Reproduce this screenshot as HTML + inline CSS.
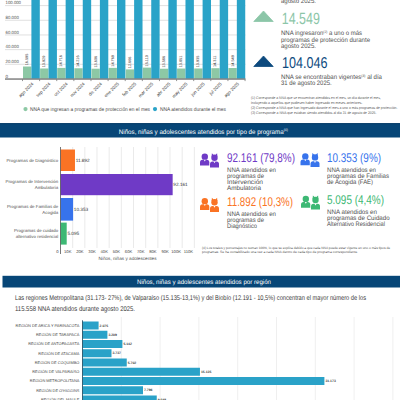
<!DOCTYPE html>
<html><head><meta charset="utf-8"><style>
html,body{margin:0;padding:0;background:#fff;width:400px;height:400px;overflow:hidden}
svg{display:block;font-family:"Liberation Sans", sans-serif;text-rendering:geometricPrecision}
</style></head><body>
<svg width="400" height="400" viewBox="0 0 400 400">
<line x1="5.00" y1="64.32" x2="245.50" y2="64.32" stroke="#d8d8d8" stroke-width="0.8"/>
<line x1="5.00" y1="49.64" x2="245.50" y2="49.64" stroke="#d8d8d8" stroke-width="0.8"/>
<line x1="5.00" y1="34.96" x2="245.50" y2="34.96" stroke="#d8d8d8" stroke-width="0.8"/>
<line x1="5.00" y1="20.28" x2="245.50" y2="20.28" stroke="#d8d8d8" stroke-width="0.8"/>
<line x1="5.00" y1="5.60" x2="245.50" y2="5.60" stroke="#d8d8d8" stroke-width="0.8"/>
<text x="5.6" y="77.7" font-size="4.6" fill="#555" text-anchor="start" font-weight="normal" >0</text>
<text x="5.6" y="63.02" font-size="4.6" fill="#555" text-anchor="start" font-weight="normal"  textLength="13.2" lengthAdjust="spacingAndGlyphs">20.000</text>
<text x="5.6" y="48.34" font-size="4.6" fill="#555" text-anchor="start" font-weight="normal"  textLength="13.2" lengthAdjust="spacingAndGlyphs">40.000</text>
<text x="5.6" y="33.66" font-size="4.6" fill="#555" text-anchor="start" font-weight="normal"  textLength="13.2" lengthAdjust="spacingAndGlyphs">60.000</text>
<text x="5.6" y="18.98" font-size="4.6" fill="#555" text-anchor="start" font-weight="normal"  textLength="13.2" lengthAdjust="spacingAndGlyphs">80.000</text>
<text x="5.6" y="4.3" font-size="4.6" fill="#555" text-anchor="start" font-weight="normal"  textLength="15.4" lengthAdjust="spacingAndGlyphs">100.000</text>
<rect x="23.00" y="66.52" width="8.30" height="12.18" fill="#8dc8a5" />
<rect x="31.40" y="0.00" width="8.40" height="78.70" fill="#2aa3c8" />
<text x="27.10" y="65.32" font-size="3.8" fill="#333" transform="rotate(-90 27.10 65.32)" dominant-baseline="middle">16.595</text>
<text x="33.80" y="84.20" font-size="4.5" fill="#3a3a3a" text-anchor="end" transform="rotate(-45 33.80 84.20)">ago 2024</text>
<line x1="22.50" y1="79.30" x2="22.50" y2="81.10" stroke="#666" stroke-width="0.7"/>
<rect x="40.12" y="68.48" width="8.30" height="10.22" fill="#8dc8a5" />
<rect x="48.52" y="0.00" width="8.40" height="78.70" fill="#2aa3c8" />
<text x="44.22" y="67.28" font-size="3.8" fill="#333" transform="rotate(-90 44.22 67.28)" dominant-baseline="middle">13.929</text>
<text x="50.92" y="84.20" font-size="4.5" fill="#3a3a3a" text-anchor="end" transform="rotate(-45 50.92 84.20)">sep 2024</text>
<line x1="39.62" y1="79.30" x2="39.62" y2="81.10" stroke="#666" stroke-width="0.7"/>
<rect x="57.24" y="67.90" width="8.30" height="10.80" fill="#8dc8a5" />
<rect x="65.64" y="0.00" width="8.40" height="78.70" fill="#2aa3c8" />
<text x="61.34" y="66.70" font-size="3.8" fill="#333" transform="rotate(-90 61.34 66.70)" dominant-baseline="middle">14.716</text>
<text x="68.04" y="84.20" font-size="4.5" fill="#3a3a3a" text-anchor="end" transform="rotate(-45 68.04 84.20)">oct 2024</text>
<line x1="56.74" y1="79.30" x2="56.74" y2="81.10" stroke="#666" stroke-width="0.7"/>
<rect x="74.36" y="68.27" width="8.30" height="10.43" fill="#8dc8a5" />
<rect x="82.76" y="0.00" width="8.40" height="78.70" fill="#2aa3c8" />
<text x="78.46" y="67.07" font-size="3.8" fill="#333" transform="rotate(-90 78.46 67.07)" dominant-baseline="middle">14.216</text>
<text x="85.16" y="84.20" font-size="4.5" fill="#3a3a3a" text-anchor="end" transform="rotate(-45 85.16 84.20)">nov 2024</text>
<line x1="73.86" y1="79.30" x2="73.86" y2="81.10" stroke="#666" stroke-width="0.7"/>
<rect x="91.48" y="68.71" width="8.30" height="9.99" fill="#8dc8a5" />
<rect x="99.88" y="0.00" width="8.40" height="78.70" fill="#2aa3c8" />
<text x="95.58" y="67.51" font-size="3.8" fill="#333" transform="rotate(-90 95.58 67.51)" dominant-baseline="middle">13.606</text>
<text x="102.28" y="84.20" font-size="4.5" fill="#3a3a3a" text-anchor="end" transform="rotate(-45 102.28 84.20)">dic 2024</text>
<line x1="90.98" y1="79.30" x2="90.98" y2="81.10" stroke="#666" stroke-width="0.7"/>
<rect x="108.60" y="67.86" width="8.30" height="10.84" fill="#8dc8a5" />
<rect x="117.00" y="0.00" width="8.40" height="78.70" fill="#2aa3c8" />
<text x="112.70" y="66.66" font-size="3.8" fill="#333" transform="rotate(-90 112.70 66.66)" dominant-baseline="middle">14.769</text>
<text x="119.40" y="84.20" font-size="4.5" fill="#3a3a3a" text-anchor="end" transform="rotate(-45 119.40 84.20)">ene 2025</text>
<line x1="108.10" y1="79.30" x2="108.10" y2="81.10" stroke="#666" stroke-width="0.7"/>
<rect x="125.72" y="69.40" width="8.30" height="9.30" fill="#8dc8a5" />
<rect x="134.12" y="0.00" width="8.40" height="78.70" fill="#2aa3c8" />
<text x="129.82" y="68.20" font-size="3.8" fill="#333" transform="rotate(-90 129.82 68.20)" dominant-baseline="middle">12.666</text>
<text x="136.52" y="84.20" font-size="4.5" fill="#3a3a3a" text-anchor="end" transform="rotate(-45 136.52 84.20)">feb 2025</text>
<line x1="125.22" y1="79.30" x2="125.22" y2="81.10" stroke="#666" stroke-width="0.7"/>
<rect x="142.84" y="67.61" width="8.30" height="11.09" fill="#8dc8a5" />
<rect x="151.24" y="0.00" width="8.40" height="78.70" fill="#2aa3c8" />
<text x="146.94" y="66.41" font-size="3.8" fill="#333" transform="rotate(-90 146.94 66.41)" dominant-baseline="middle">15.110</text>
<text x="153.64" y="84.20" font-size="4.5" fill="#3a3a3a" text-anchor="end" transform="rotate(-45 153.64 84.20)">mar 2025</text>
<line x1="142.34" y1="79.30" x2="142.34" y2="81.10" stroke="#666" stroke-width="0.7"/>
<rect x="159.96" y="68.73" width="8.30" height="9.97" fill="#8dc8a5" />
<rect x="168.36" y="0.00" width="8.40" height="78.70" fill="#2aa3c8" />
<text x="164.06" y="67.53" font-size="3.8" fill="#333" transform="rotate(-90 164.06 67.53)" dominant-baseline="middle">13.586</text>
<text x="170.76" y="84.20" font-size="4.5" fill="#3a3a3a" text-anchor="end" transform="rotate(-45 170.76 84.20)">abr 2025</text>
<line x1="159.46" y1="79.30" x2="159.46" y2="81.10" stroke="#666" stroke-width="0.7"/>
<rect x="177.08" y="68.53" width="8.30" height="10.17" fill="#8dc8a5" />
<rect x="185.48" y="0.00" width="8.40" height="78.70" fill="#2aa3c8" />
<text x="181.18" y="67.33" font-size="3.8" fill="#333" transform="rotate(-90 181.18 67.33)" dominant-baseline="middle">13.851</text>
<text x="187.88" y="84.20" font-size="4.5" fill="#3a3a3a" text-anchor="end" transform="rotate(-45 187.88 84.20)">may 2025</text>
<line x1="176.58" y1="79.30" x2="176.58" y2="81.10" stroke="#666" stroke-width="0.7"/>
<rect x="194.20" y="68.47" width="8.30" height="10.23" fill="#8dc8a5" />
<rect x="202.60" y="0.00" width="8.40" height="78.70" fill="#2aa3c8" />
<text x="198.30" y="67.27" font-size="3.8" fill="#333" transform="rotate(-90 198.30 67.27)" dominant-baseline="middle">13.935</text>
<text x="205.00" y="84.20" font-size="4.5" fill="#3a3a3a" text-anchor="end" transform="rotate(-45 205.00 84.20)">jun 2025</text>
<line x1="193.70" y1="79.30" x2="193.70" y2="81.10" stroke="#666" stroke-width="0.7"/>
<rect x="211.32" y="68.20" width="8.30" height="10.50" fill="#8dc8a5" />
<rect x="219.72" y="0.00" width="8.40" height="78.70" fill="#2aa3c8" />
<text x="215.42" y="67.00" font-size="3.8" fill="#333" transform="rotate(-90 215.42 67.00)" dominant-baseline="middle">14.311</text>
<text x="222.12" y="84.20" font-size="4.5" fill="#3a3a3a" text-anchor="end" transform="rotate(-45 222.12 84.20)">jul 2025</text>
<line x1="210.82" y1="79.30" x2="210.82" y2="81.10" stroke="#666" stroke-width="0.7"/>
<rect x="228.44" y="68.02" width="8.30" height="10.68" fill="#8dc8a5" />
<rect x="236.84" y="0.00" width="8.40" height="78.70" fill="#2aa3c8" />
<text x="232.54" y="66.82" font-size="3.8" fill="#333" transform="rotate(-90 232.54 66.82)" dominant-baseline="middle">14.549</text>
<text x="239.24" y="84.20" font-size="4.5" fill="#3a3a3a" text-anchor="end" transform="rotate(-45 239.24 84.20)">ago 2025</text>
<line x1="227.94" y1="79.30" x2="227.94" y2="81.10" stroke="#666" stroke-width="0.7"/>
<line x1="245.06" y1="79.30" x2="245.06" y2="81.10" stroke="#666" stroke-width="0.7"/>
<rect x="5.00" y="78.40" width="240.50" height="1.30" fill="#707070" />
<circle cx="25.5" cy="109.1" r="2.1" fill="#8dc8a5"/>
<text x="30" y="110.9" font-size="5.3" fill="#4a4a4a" text-anchor="start" font-weight="normal"  textLength="120" lengthAdjust="spacingAndGlyphs">NNA que ingresan a programas de protección en el mes</text>
<circle cx="155" cy="109.1" r="2.1" fill="#2aa3c8"/>
<text x="160" y="110.9" font-size="5.3" fill="#4a4a4a" text-anchor="start" font-weight="normal"  textLength="66" lengthAdjust="spacingAndGlyphs">NNA atendidos durante el mes</text>
<text x="281" y="3.4" font-size="6.5" fill="#505050" text-anchor="start" font-weight="normal"  textLength="35" lengthAdjust="spacingAndGlyphs">agosto 2025.</text>
<path d="M263.5 11 L273.2 21.5 L253.8 21.5 Z" fill="#8cc6a8" stroke="#8cc6a8" stroke-width="0.8" stroke-linejoin="round"/>
<text x="281.8" y="23.9" font-size="16.2" fill="#8cc6a8" text-anchor="start" font-weight="normal"  textLength="38" lengthAdjust="spacingAndGlyphs">14.549</text>
<text x="281" y="35.3" font-size="6.5" fill="#505050" text-anchor="start" font-weight="normal"  textLength="81" lengthAdjust="spacingAndGlyphs">NNA ingresaron<tspan font-size="3.6" dy="-2.4">(2)</tspan><tspan dy="2.4"> a uno o más</tspan></text>
<text x="281" y="41.5" font-size="6.5" fill="#505050" text-anchor="start" font-weight="normal"  textLength="89" lengthAdjust="spacingAndGlyphs">programas de protección durante</text>
<text x="281" y="47.7" font-size="6.5" fill="#505050" text-anchor="start" font-weight="normal"  textLength="35" lengthAdjust="spacingAndGlyphs">agosto 2025.</text>
<path d="M263.5 56 L273.2 66.5 L253.8 66.5 Z" fill="#0d4a7e" stroke="#0d4a7e" stroke-width="0.8" stroke-linejoin="round"/>
<text x="282" y="67.6" font-size="15.6" fill="#0d4a7e" text-anchor="start" font-weight="normal"  textLength="45.5" lengthAdjust="spacingAndGlyphs">104.046</text>
<text x="281" y="79.0" font-size="6.5" fill="#505050" text-anchor="start" font-weight="normal"  textLength="101" lengthAdjust="spacingAndGlyphs">NNA se encontraban vigentes<tspan font-size="3.6" dy="-2.4">(3)</tspan><tspan dy="2.4"> al día</tspan></text>
<text x="281" y="85.1" font-size="6.5" fill="#505050" text-anchor="start" font-weight="normal"  textLength="50.6" lengthAdjust="spacingAndGlyphs">31 de agosto 2025.</text>
<text x="251" y="98.9" font-size="3.7" fill="#5a5a5a" text-anchor="start" font-weight="normal"  textLength="129.8" lengthAdjust="spacingAndGlyphs">(1) Corresponde a NNA que se encuentran atendidos en el mes, un día durante el mes,</text>
<text x="251" y="103.9" font-size="3.7" fill="#5a5a5a" text-anchor="start" font-weight="normal"  textLength="111.4" lengthAdjust="spacingAndGlyphs">incluyendo a aquellos que pudiesen haber ingresado en meses anteriores.</text>
<text x="251" y="108.9" font-size="3.7" fill="#5a5a5a" text-anchor="start" font-weight="normal"  textLength="146.4" lengthAdjust="spacingAndGlyphs">(2) Corresponde a NNA que han ingresado durante el mes a uno o más programas de protección.</text>
<text x="251" y="113.9" font-size="3.7" fill="#5a5a5a" text-anchor="start" font-weight="normal"  textLength="125.4" lengthAdjust="spacingAndGlyphs">(3) Corresponde a NNA que estaban siendo atendidos al día 31 de agosto de 2025.</text>
<rect x="0.00" y="123.20" width="400.00" height="14.30" fill="#074677" />
<rect x="0.00" y="123.20" width="400.00" height="0.90" fill="#053a66" />
<text x="118.8" y="133.8" font-size="6.6" fill="#ffffff" text-anchor="start" font-weight="normal"  textLength="169" lengthAdjust="spacingAndGlyphs">Niños, niñas y adolescentes atendidos por tipo de programa<tspan font-size="3.6" dy="-2.6">(4)</tspan></text>
<line x1="72.67" y1="147.00" x2="72.67" y2="248.00" stroke="#dcdcdc" stroke-width="0.6"/>
<line x1="84.84" y1="147.00" x2="84.84" y2="248.00" stroke="#dcdcdc" stroke-width="0.6"/>
<line x1="97.01" y1="147.00" x2="97.01" y2="248.00" stroke="#dcdcdc" stroke-width="0.6"/>
<line x1="109.18" y1="147.00" x2="109.18" y2="248.00" stroke="#dcdcdc" stroke-width="0.6"/>
<line x1="121.35" y1="147.00" x2="121.35" y2="248.00" stroke="#dcdcdc" stroke-width="0.6"/>
<line x1="133.52" y1="147.00" x2="133.52" y2="248.00" stroke="#dcdcdc" stroke-width="0.6"/>
<line x1="145.69" y1="147.00" x2="145.69" y2="248.00" stroke="#dcdcdc" stroke-width="0.6"/>
<line x1="157.86" y1="147.00" x2="157.86" y2="248.00" stroke="#dcdcdc" stroke-width="0.6"/>
<line x1="170.03" y1="147.00" x2="170.03" y2="248.00" stroke="#dcdcdc" stroke-width="0.6"/>
<line x1="182.20" y1="147.00" x2="182.20" y2="248.00" stroke="#dcdcdc" stroke-width="0.6"/>
<line x1="194.37" y1="147.00" x2="194.37" y2="248.00" stroke="#dcdcdc" stroke-width="0.6"/>
<rect x="60.50" y="149.50" width="14.47" height="21.50" fill="#fa7324" />
<text x="75.67256400000001" y="161.85" font-size="4.7" fill="#333" text-anchor="start" font-weight="normal" >11.892</text>
<rect x="60.50" y="174.00" width="112.16" height="21.20" fill="#6f3ac6" />
<text x="173.359937" y="186.2" font-size="4.7" fill="#333" text-anchor="start" font-weight="normal" >92.161</text>
<rect x="60.50" y="198.00" width="12.60" height="22.60" fill="#3773ec" />
<text x="73.79960100000001" y="210.9" font-size="4.7" fill="#333" text-anchor="start" font-weight="normal" >10.353</text>
<rect x="60.50" y="222.60" width="6.20" height="22.00" fill="#3db874" />
<text x="67.400615" y="235.2" font-size="4.7" fill="#333" text-anchor="start" font-weight="normal" >5.095</text>
<line x1="60.50" y1="147.00" x2="60.50" y2="254.00" stroke="#555" stroke-width="0.8"/>
<text x="58.2" y="161.9" font-size="4.4" fill="#505050" text-anchor="end" font-weight="normal" >Programas de Diagnóstico</text>
<text x="58.2" y="183.35" font-size="4.4" fill="#505050" text-anchor="end" font-weight="normal" >Programas de Intervención</text>
<text x="58.2" y="189.25" font-size="4.4" fill="#505050" text-anchor="end" font-weight="normal" >Ambulatoria</text>
<text x="58.2" y="207.75" font-size="4.4" fill="#505050" text-anchor="end" font-weight="normal" >Programas de Familias de</text>
<text x="58.2" y="213.65" font-size="4.4" fill="#505050" text-anchor="end" font-weight="normal" >Acogida</text>
<text x="58.2" y="232.15" font-size="4.4" fill="#505050" text-anchor="end" font-weight="normal" >Programas de cuidado</text>
<text x="58.2" y="238.05" font-size="4.4" fill="#505050" text-anchor="end" font-weight="normal" >alternativo residencial</text>
<text x="58.6" y="252.8" font-size="4.2" fill="#444" text-anchor="end" font-weight="normal" >0</text>
<text x="71.47" y="252.8" font-size="4.2" fill="#444" text-anchor="end" font-weight="normal" >10K</text>
<text x="83.64" y="252.8" font-size="4.2" fill="#444" text-anchor="end" font-weight="normal" >20K</text>
<text x="95.81" y="252.8" font-size="4.2" fill="#444" text-anchor="end" font-weight="normal" >30K</text>
<text x="107.98" y="252.8" font-size="4.2" fill="#444" text-anchor="end" font-weight="normal" >40K</text>
<text x="120.15" y="252.8" font-size="4.2" fill="#444" text-anchor="end" font-weight="normal" >50K</text>
<text x="132.32" y="252.8" font-size="4.2" fill="#444" text-anchor="end" font-weight="normal" >60K</text>
<text x="144.49" y="252.8" font-size="4.2" fill="#444" text-anchor="end" font-weight="normal" >70K</text>
<text x="156.66" y="252.8" font-size="4.2" fill="#444" text-anchor="end" font-weight="normal" >80K</text>
<text x="168.83" y="252.8" font-size="4.2" fill="#444" text-anchor="end" font-weight="normal" >90K</text>
<text x="181.0" y="252.8" font-size="4.2" fill="#444" text-anchor="end" font-weight="normal" >100K</text>
<text x="193.17" y="252.8" font-size="4.2" fill="#444" text-anchor="end" font-weight="normal" >110K</text>
<text x="127.5" y="260.4" font-size="4.6" fill="#505050" text-anchor="middle" font-weight="normal"  textLength="58" lengthAdjust="spacingAndGlyphs">Niños, niñas y adolescentes</text>
<g transform="translate(200 153.3) scale(1.0)"><circle cx="4.8" cy="3.4" r="3.2" fill="#6f3ac6"/><path d="M0 12.2 L0 9 Q0 6.5 2.5 6.5 L6.8 6.5 Q9.3 6.5 9.3 9 L9.3 12.2 Z" fill="#6f3ac6"/><path d="M3.8 6.5 L5.8 6.5 L4.8 8.3 Z" fill="#fff"/><circle cx="14.5" cy="4.4" r="3.2" fill="#6f3ac6"/><path d="M11.6 3.5 L11.9 0 L13.6 1.6 Z M17.4 3.5 L17.1 0 L15.4 1.6 Z" fill="#6f3ac6"/><path d="M10 14.1 L10 10.8 Q10 8.3 12.5 8.3 L16.5 8.3 Q19 8.3 19 10.8 L19 14.1 Z" fill="#6f3ac6"/><path d="M13.5 8.3 L15.5 8.3 L14.5 10 Z" fill="#fff"/></g>
<text x="227" y="162.1" font-size="12.6" fill="#6f3ac6" text-anchor="start" font-weight="normal"  textLength="68" lengthAdjust="spacingAndGlyphs">92.161 (79,8%)</text>
<text x="227" y="172.2" font-size="6.4" fill="#505050" text-anchor="start" font-weight="normal"  textLength="49" lengthAdjust="spacingAndGlyphs">NNA atendidos en</text>
<text x="227" y="178.2" font-size="6.4" fill="#505050" text-anchor="start" font-weight="normal"  textLength="37" lengthAdjust="spacingAndGlyphs">programas de</text>
<text x="227" y="184.2" font-size="6.4" fill="#505050" text-anchor="start" font-weight="normal"  textLength="36" lengthAdjust="spacingAndGlyphs">Intervención</text>
<text x="227" y="190.2" font-size="6.4" fill="#505050" text-anchor="start" font-weight="normal"  textLength="34" lengthAdjust="spacingAndGlyphs">Ambulatoria</text>
<g transform="translate(300.5 153.0) scale(1.0)"><circle cx="4.8" cy="3.4" r="3.2" fill="#3773ec"/><path d="M0 12.2 L0 9 Q0 6.5 2.5 6.5 L6.8 6.5 Q9.3 6.5 9.3 9 L9.3 12.2 Z" fill="#3773ec"/><path d="M3.8 6.5 L5.8 6.5 L4.8 8.3 Z" fill="#fff"/><circle cx="14.5" cy="4.4" r="3.2" fill="#3773ec"/><path d="M11.6 3.5 L11.9 0 L13.6 1.6 Z M17.4 3.5 L17.1 0 L15.4 1.6 Z" fill="#3773ec"/><path d="M10 14.1 L10 10.8 Q10 8.3 12.5 8.3 L16.5 8.3 Q19 8.3 19 10.8 L19 14.1 Z" fill="#3773ec"/><path d="M13.5 8.3 L15.5 8.3 L14.5 10 Z" fill="#fff"/></g>
<text x="327" y="162.1" font-size="12.6" fill="#3773ec" text-anchor="start" font-weight="normal"  textLength="54" lengthAdjust="spacingAndGlyphs">10.353 (9%)</text>
<text x="327" y="172.2" font-size="6.4" fill="#505050" text-anchor="start" font-weight="normal"  textLength="49" lengthAdjust="spacingAndGlyphs">NNA atendidos en</text>
<text x="327" y="178.2" font-size="6.4" fill="#505050" text-anchor="start" font-weight="normal"  textLength="62" lengthAdjust="spacingAndGlyphs">programas de Familias</text>
<text x="327" y="184.2" font-size="6.4" fill="#505050" text-anchor="start" font-weight="normal"  textLength="46" lengthAdjust="spacingAndGlyphs">de Acogida (FAE)</text>
<g transform="translate(200 197.8) scale(1.0)"><circle cx="4.8" cy="3.4" r="3.2" fill="#fa7324"/><path d="M0 12.2 L0 9 Q0 6.5 2.5 6.5 L6.8 6.5 Q9.3 6.5 9.3 9 L9.3 12.2 Z" fill="#fa7324"/><path d="M3.8 6.5 L5.8 6.5 L4.8 8.3 Z" fill="#fff"/><circle cx="14.5" cy="4.4" r="3.2" fill="#fa7324"/><path d="M11.6 3.5 L11.9 0 L13.6 1.6 Z M17.4 3.5 L17.1 0 L15.4 1.6 Z" fill="#fa7324"/><path d="M10 14.1 L10 10.8 Q10 8.3 12.5 8.3 L16.5 8.3 Q19 8.3 19 10.8 L19 14.1 Z" fill="#fa7324"/><path d="M13.5 8.3 L15.5 8.3 L14.5 10 Z" fill="#fff"/></g>
<text x="227" y="206.2" font-size="12.6" fill="#fa7324" text-anchor="start" font-weight="normal"  textLength="66" lengthAdjust="spacingAndGlyphs">11.892 (10,3%)</text>
<text x="227" y="216.0" font-size="6.4" fill="#505050" text-anchor="start" font-weight="normal"  textLength="49" lengthAdjust="spacingAndGlyphs">NNA atendidos en</text>
<text x="227" y="222.0" font-size="6.4" fill="#505050" text-anchor="start" font-weight="normal"  textLength="37" lengthAdjust="spacingAndGlyphs">programas de</text>
<text x="227" y="228.0" font-size="6.4" fill="#505050" text-anchor="start" font-weight="normal"  textLength="30" lengthAdjust="spacingAndGlyphs">Diagnóstico</text>
<g transform="translate(301 195.5) scale(1.0)"><circle cx="4.8" cy="3.4" r="3.2" fill="#3db874"/><path d="M0 12.2 L0 9 Q0 6.5 2.5 6.5 L6.8 6.5 Q9.3 6.5 9.3 9 L9.3 12.2 Z" fill="#3db874"/><path d="M3.8 6.5 L5.8 6.5 L4.8 8.3 Z" fill="#fff"/><circle cx="14.5" cy="4.4" r="3.2" fill="#3db874"/><path d="M11.6 3.5 L11.9 0 L13.6 1.6 Z M17.4 3.5 L17.1 0 L15.4 1.6 Z" fill="#3db874"/><path d="M10 14.1 L10 10.8 Q10 8.3 12.5 8.3 L16.5 8.3 Q19 8.3 19 10.8 L19 14.1 Z" fill="#3db874"/><path d="M13.5 8.3 L15.5 8.3 L14.5 10 Z" fill="#fff"/></g>
<text x="327" y="204.4" font-size="12.6" fill="#3db874" text-anchor="start" font-weight="normal"  textLength="57" lengthAdjust="spacingAndGlyphs">5.095 (4,4%)</text>
<text x="327" y="214.3" font-size="6.4" fill="#505050" text-anchor="start" font-weight="normal"  textLength="50" lengthAdjust="spacingAndGlyphs">NNA atendidos en</text>
<text x="327" y="220.3" font-size="6.4" fill="#505050" text-anchor="start" font-weight="normal"  textLength="62.6" lengthAdjust="spacingAndGlyphs">programas de Cuidado</text>
<text x="327" y="226.3" font-size="6.4" fill="#505050" text-anchor="start" font-weight="normal"  textLength="58" lengthAdjust="spacingAndGlyphs">Alternativo Residencial</text>
<text x="202" y="248.6" font-size="3.3" fill="#555" text-anchor="start" font-weight="normal"  textLength="188" lengthAdjust="spacingAndGlyphs">(4) Los totales y porcentajes no suman 100%, lo que se explica debido a que cada NNA puede estar vigente en uno o más tipos de</text>
<text x="202" y="253.3" font-size="3.3" fill="#555" text-anchor="start" font-weight="normal"  textLength="156" lengthAdjust="spacingAndGlyphs">programas. Se ha contabilizado una vez a cada NNA dentro de cada tipo de programa correspondiente.</text>
<rect x="2.50" y="275.80" width="397.50" height="11.70" fill="#074677" />
<text x="137" y="284.2" font-size="6.4" fill="#ffffff" text-anchor="start" font-weight="normal"  textLength="134" lengthAdjust="spacingAndGlyphs">Niños, niñas y adolescentes atendidos por región</text>
<text x="15" y="300.2" font-size="6.9" fill="#3a3a3a" text-anchor="start" font-weight="normal"  textLength="351" lengthAdjust="spacingAndGlyphs">Las regiones Metropolitana (31.173- 27%), de Valparaíso (15.135-13,1%) y del Biobío (12.191 - 10,5%) concentran el mayor número de los</text>
<text x="15" y="310.9" font-size="6.9" fill="#3a3a3a" text-anchor="start" font-weight="normal"  textLength="120" lengthAdjust="spacingAndGlyphs">115.558 NNA atendidos durante agosto 2025.</text>
<line x1="121.30" y1="317.00" x2="121.30" y2="400.00" stroke="#e4e4e4" stroke-width="0.6"/>
<line x1="160.10" y1="317.00" x2="160.10" y2="400.00" stroke="#e4e4e4" stroke-width="0.6"/>
<line x1="198.90" y1="317.00" x2="198.90" y2="400.00" stroke="#e4e4e4" stroke-width="0.6"/>
<line x1="237.70" y1="317.00" x2="237.70" y2="400.00" stroke="#e4e4e4" stroke-width="0.6"/>
<line x1="276.50" y1="317.00" x2="276.50" y2="400.00" stroke="#e4e4e4" stroke-width="0.6"/>
<line x1="315.30" y1="317.00" x2="315.30" y2="400.00" stroke="#e4e4e4" stroke-width="0.6"/>
<line x1="354.10" y1="317.00" x2="354.10" y2="400.00" stroke="#e4e4e4" stroke-width="0.6"/>
<line x1="392.90" y1="317.00" x2="392.90" y2="400.00" stroke="#e4e4e4" stroke-width="0.6"/>
<rect x="82.50" y="321.50" width="16.10" height="8.00" fill="#2aa2c8" />
<text x="99.602" y="326.7" font-size="3.4" fill="#333" text-anchor="start" font-weight="bold" >2.075</text>
<text x="79.3" y="326.9" font-size="3.9" fill="#4a4a4a" text-anchor="end" font-weight="normal" >REGIÓN DE ARICA Y PARINACOTA</text>
<rect x="82.50" y="330.75" width="24.90" height="8.00" fill="#2aa2c8" />
<text x="108.40183999999999" y="335.95" font-size="3.4" fill="#333" text-anchor="start" font-weight="bold" >3.209</text>
<text x="79.3" y="336.15" font-size="3.9" fill="#4a4a4a" text-anchor="end" font-weight="normal" >REGIÓN DE TARAPACÁ</text>
<rect x="82.50" y="340.00" width="39.90" height="8.00" fill="#2aa2c8" />
<text x="123.40191999999999" y="345.2" font-size="3.4" fill="#333" text-anchor="start" font-weight="bold" >5.142</text>
<text x="79.3" y="345.4" font-size="3.9" fill="#4a4a4a" text-anchor="end" font-weight="normal" >REGIÓN DE ANTOFAGASTA</text>
<rect x="82.50" y="349.25" width="29.00" height="8.00" fill="#2aa2c8" />
<text x="112.49912" y="354.45" font-size="3.4" fill="#333" text-anchor="start" font-weight="bold" >3.737</text>
<text x="79.3" y="354.65" font-size="3.9" fill="#4a4a4a" text-anchor="end" font-weight="normal" >REGIÓN DE ATACAMA</text>
<rect x="82.50" y="358.50" width="44.25" height="8.00" fill="#2aa2c8" />
<text x="127.74752000000001" y="363.7" font-size="3.4" fill="#333" text-anchor="start" font-weight="bold" >5.702</text>
<text x="79.3" y="363.9" font-size="3.9" fill="#4a4a4a" text-anchor="end" font-weight="normal" >REGIÓN DE COQUIMBO</text>
<rect x="82.50" y="367.75" width="117.45" height="8.00" fill="#2aa2c8" />
<text x="200.9476" y="372.95" font-size="3.4" fill="#333" text-anchor="start" font-weight="bold" >15.135</text>
<text x="79.3" y="373.15" font-size="3.9" fill="#4a4a4a" text-anchor="end" font-weight="normal" >REGIÓN DE VALPARAÍSO</text>
<rect x="82.50" y="377.00" width="241.90" height="8.00" fill="#2aa2c8" />
<text x="325.40247999999997" y="382.2" font-size="3.4" fill="#333" text-anchor="start" font-weight="bold" >31.173</text>
<text x="79.3" y="382.4" font-size="3.9" fill="#4a4a4a" text-anchor="end" font-weight="normal" >REGIÓN METROPOLITANA</text>
<rect x="82.50" y="386.25" width="60.50" height="8.00" fill="#2aa2c8" />
<text x="143.99696" y="391.45" font-size="3.4" fill="#333" text-anchor="start" font-weight="bold" >7.796</text>
<text x="79.3" y="391.65" font-size="3.9" fill="#4a4a4a" text-anchor="end" font-weight="normal" >REGIÓN DE O'HIGGINS</text>
<rect x="82.50" y="395.50" width="74.25" height="8.00" fill="#2aa2c8" />
<text x="157.74768" y="400.7" font-size="3.4" fill="#333" text-anchor="start" font-weight="bold" >9.568</text>
<text x="79.3" y="400.9" font-size="3.9" fill="#4a4a4a" text-anchor="end" font-weight="normal" >REGIÓN DEL MAULE</text>
<line x1="82.50" y1="320.30" x2="82.50" y2="400.00" stroke="#2b5468" stroke-width="0.9"/>
</svg>
</body></html>
